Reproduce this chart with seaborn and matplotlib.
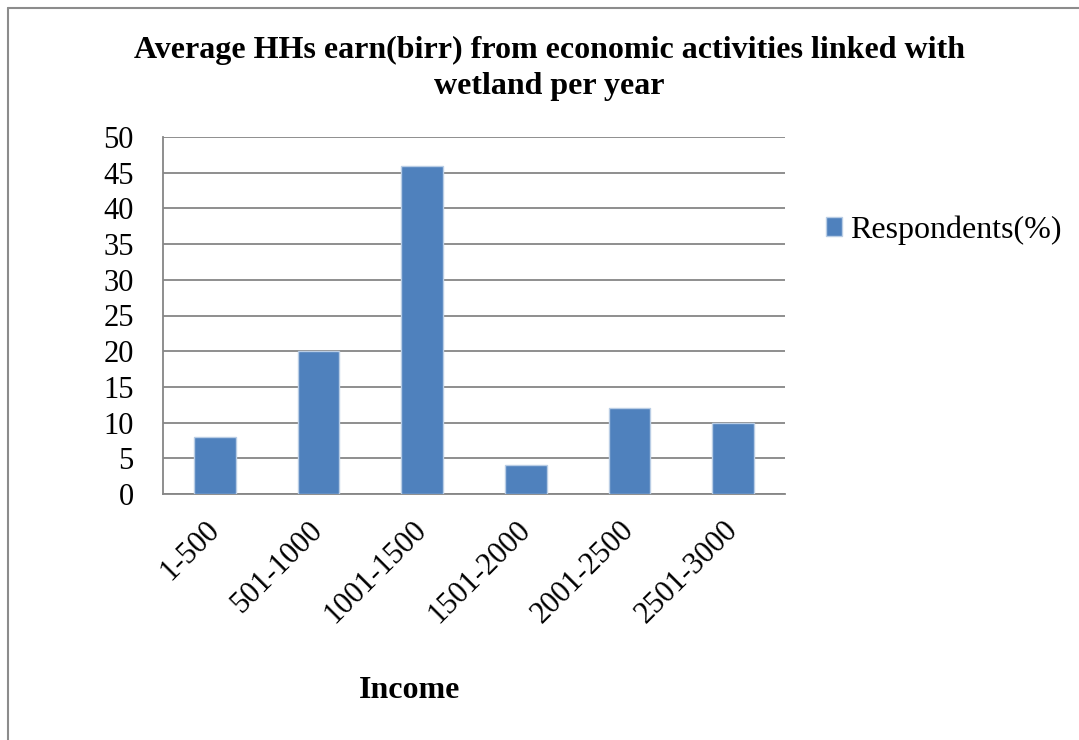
import matplotlib
matplotlib.use("Agg")
import matplotlib.pyplot as plt
import matplotlib.transforms as mtransforms
import seaborn as sns
import pandas as pd
from matplotlib.lines import Line2D
from matplotlib.patches import Patch

# Income bands (birr per year) and share of respondents
income_bands = ["1-500", "501-1000", "1001-1500", "1501-2000", "2001-2500", "2501-3000"]
respondents_pct = [8, 20, 46, 4, 12, 10]
y_ticks = [0, 5, 10, 15, 20, 25, 30, 35, 40, 45, 50]

df = pd.DataFrame({"Income": income_bands, "Respondents(%)": respondents_pct})

sns.set_theme(style="white")
plt.rcParams["font.family"] = ["Liberation Serif", "DejaVu Serif"]
plt.rcParams["text.color"] = "black"
plt.rcParams["xtick.labelcolor"] = "black"
plt.rcParams["ytick.labelcolor"] = "black"

bar_color = "#4F81BD"
grid_color = "#868686"

fig = plt.figure(figsize=(10.79, 7.40), dpi=100)
ax = fig.add_axes([163 / 1079, 1 - 494 / 740, (785 - 163) / 1079, (494 - 137) / 740])

sns.barplot(data=df, x="Income", y="Respondents(%)", color=bar_color,
            width=0.4, edgecolor="#B9CDE5", linewidth=1.0, saturation=1,
            ax=ax, zorder=3)

ax.set_xlim(-0.5, len(income_bands) - 0.5)
ax.set_ylim(0, 50)
ax.set_yticks(y_ticks)
ax.set_yticklabels([str(t) for t in y_ticks], fontsize=22, color="black")

# category boundaries carry the tick marks; labels sit at the bar centres
ax.set_xticks([i - 0.5 for i in range(len(income_bands) + 1)])
ax.set_xticklabels([])
ax.set_xticks(range(len(income_bands)), minor=True)
ax.set_xticklabels(income_bands, minor=True, rotation=45, ha="right", va="center",
                   rotation_mode="anchor", fontsize=22, color="black")
shift = mtransforms.ScaledTranslation(3 / 100, 0, fig.dpi_scale_trans)
for lbl in ax.get_xticklabels(minor=True):
    lbl.set_transform(lbl.get_transform() + shift)
ax.tick_params(axis="x", which="minor", length=0, pad=23)
ax.tick_params(axis="x", which="major", length=7, width=1.3, color=grid_color, direction="out")
ax.tick_params(axis="y", length=7, width=1.3, color=grid_color, direction="out", pad=14)

ax.yaxis.grid(True, color=grid_color, linewidth=1.3, zorder=0)
ax.set_axisbelow(True)
for side in ["top", "right"]:
    ax.spines[side].set_visible(False)
for side in ["left", "bottom"]:
    ax.spines[side].set_color(grid_color)
    ax.spines[side].set_linewidth(1.3)

ax.set_ylabel("")
ax.set_xlabel("")

fig.text(549 / 1079, 1 - 68 / 740,
         "Average HHs earn(birr) from economic activities linked with\nwetland per year",
         ha="center", va="center", fontsize=23, fontweight="bold", linespacing=1.32,
         color="black")
fig.text(410 / 1079, 1 - 690 / 740, "Income", ha="center", va="center",
         fontsize=23, fontweight="bold", color="black")

handle = Patch(facecolor=bar_color, edgecolor="#B9CDE5")
fig.legend([handle], ["Respondents(%)"], loc="center left",
           bbox_to_anchor=(826 / 1079, 1 - 230 / 740), frameon=False,
           borderpad=0, borderaxespad=0,
           fontsize=23, handlelength=0.5, handleheight=0.5, handletextpad=0.25,
           labelcolor="black")

# chart frame
fig.add_artist(Line2D([8 / 1079, 8 / 1079], [0, 1 - 8 / 740], color="#8C8C8C", linewidth=1.5))
fig.add_artist(Line2D([8 / 1079, 1], [1 - 8 / 740, 1 - 8 / 740], color="#8C8C8C", linewidth=1.5))

fig.savefig("out.png", dpi=100, facecolor="white")
